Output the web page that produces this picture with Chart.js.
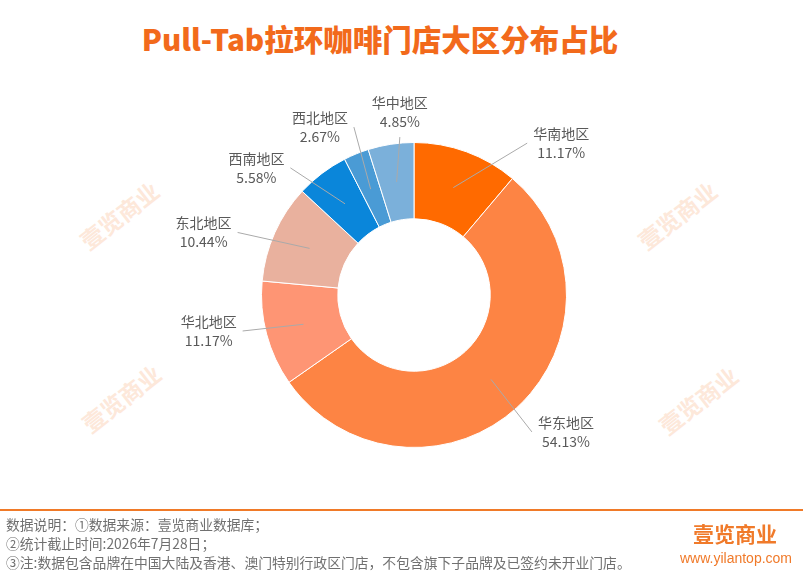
<!DOCTYPE html>
<html><head><meta charset="utf-8">
<script src="https://cdn.jsdelivr.net/npm/chart.js@4/dist/chart.umd.min.js"></script>
<style>
html,body{margin:0;padding:0;background:#fff;}
#wrap{position:relative;width:803px;height:578px;overflow:hidden;font-family:"Noto Sans CJK SC","Noto Sans",sans-serif;}
#title{position:absolute;left:0;width:760px;top:17px;line-height:42px;text-align:center;font-size:29.5px;font-weight:900;color:#F26A1B;white-space:nowrap;}
.wm{position:absolute;transform:translate(-50%,-50%) rotate(-38deg);font-size:23px;font-weight:700;color:#FDE8DA;white-space:nowrap;}
#fline{position:absolute;left:0;top:509px;width:803px;height:2px;background:#F07A28;}
#ftext{position:absolute;left:6px;top:515px;font-size:13.8px;line-height:19px;color:#707070;white-space:nowrap;}
#logo{position:absolute;left:675px;width:120px;top:521px;line-height:24px;text-align:center;font-size:21px;font-weight:700;color:#F07A2A;}
#url{position:absolute;left:676px;width:120px;top:549px;line-height:18px;text-align:center;font-size:14px;color:#F07A2A;font-family:"Liberation Sans",Arial,sans-serif;}
canvas{position:absolute;left:0;top:0;}
</style></head>
<body><div id="wrap">
<div class="wm" style="left:119px;top:215px">壹览商业</div>
<div class="wm" style="left:677px;top:215px">壹览商业</div>
<div class="wm" style="left:121px;top:398px">壹览商业</div>
<div class="wm" style="left:698px;top:400px">壹览商业</div>
<div id="title">Pull-Tab拉环咖啡门店大区分布占比</div>
<canvas id="c" width="803" height="578"></canvas>
<div id="fline"></div>
<div id="ftext">数据说明：①数据来源：壹览商业数据库；<br>②统计截止时间:2026年7月28日；<br>③注:数据包含品牌在中国大陆及香港、澳门特别行政区门店，不包含旗下子品牌及已签约未开业门店。</div>
<div id="logo">壹览商业</div>
<div id="url">www.yilantop.com</div>
</div>
<script>
const categories = ["华南地区","华东地区","华北地区","东北地区","西南地区","西北地区","华中地区"];
const shares = [11.17, 54.13, 11.17, 10.44, 5.58, 2.67, 4.85];
const colors = ["#FF6A00","#FD8444","#FE9574","#E9B19E","#0A86DA","#4A9BD5","#7BB0DA"];
// label placement tweaks (angle shift in degrees, distance beyond outer radius)
const labelAngleShift = [24, -5.6, 4.9, -7.5, -14, -7, 4.3];
const labelDist = [59, 52, 56, 67, 50, 40, 31];

const labelPlugin = {
  id:'outLabels',
  afterDatasetsDraw(chart){
    const ctx = chart.ctx;
    const meta = chart.getDatasetMeta(0);
    ctx.save();
    ctx.font = '14px "Noto Sans CJK SC", sans-serif';
    ctx.textAlign = 'center';
    ctx.textBaseline = 'middle';
    meta.data.forEach((arc,i)=>{
      const p = arc.getProps(['x','y','startAngle','endAngle','innerRadius','outerRadius'],true);
      const mid = (p.startAngle+p.endAngle)/2;
      const rs = (p.innerRadius+p.outerRadius)/2;
      const sx = p.x + Math.cos(mid)*rs, sy = p.y + Math.sin(mid)*rs;
      const la = mid + labelAngleShift[i]*Math.PI/180;
      const lr = p.outerRadius + labelDist[i];
      const lx = p.x + Math.cos(la)*lr, ly = p.y + Math.sin(la)*lr;
      const l1 = categories[i], l2 = shares[i].toFixed(2)+'%';
      const w = Math.max(ctx.measureText(l1).width, ctx.measureText(l2).width);
      let ex, ey;
      if (Math.abs(sx-lx) < w/2) { ex = lx; ey = ly + 19 + 6; }
      else if (sx > lx) { ex = lx + w/2 + 6; ey = ly; }
      else { ex = lx - w/2 - 6; ey = ly; }
      ctx.strokeStyle = '#AAAAAA';
      ctx.lineWidth = 1;
      ctx.beginPath(); ctx.moveTo(sx,sy); ctx.lineTo(ex,ey); ctx.stroke();
      ctx.fillStyle = '#595959';
      ctx.fillText(l1, lx, ly-9.5);
      ctx.fillText(l2, lx, ly+9.5);
    });
    ctx.restore();
  }
};

new Chart(document.getElementById('c'), {
  type:'doughnut',
  data:{labels:categories, datasets:[{data:shares, backgroundColor:colors, borderColor:'#ffffff', borderWidth:1}]},
  options:{
    responsive:false, animation:false, cutout:'50%',
    layout:{padding:{left:125,right:100,top:142,bottom:130}},
    plugins:{legend:{display:false}, tooltip:{enabled:false}}
  },
  plugins:[labelPlugin]
});
</script>
</body></html>
